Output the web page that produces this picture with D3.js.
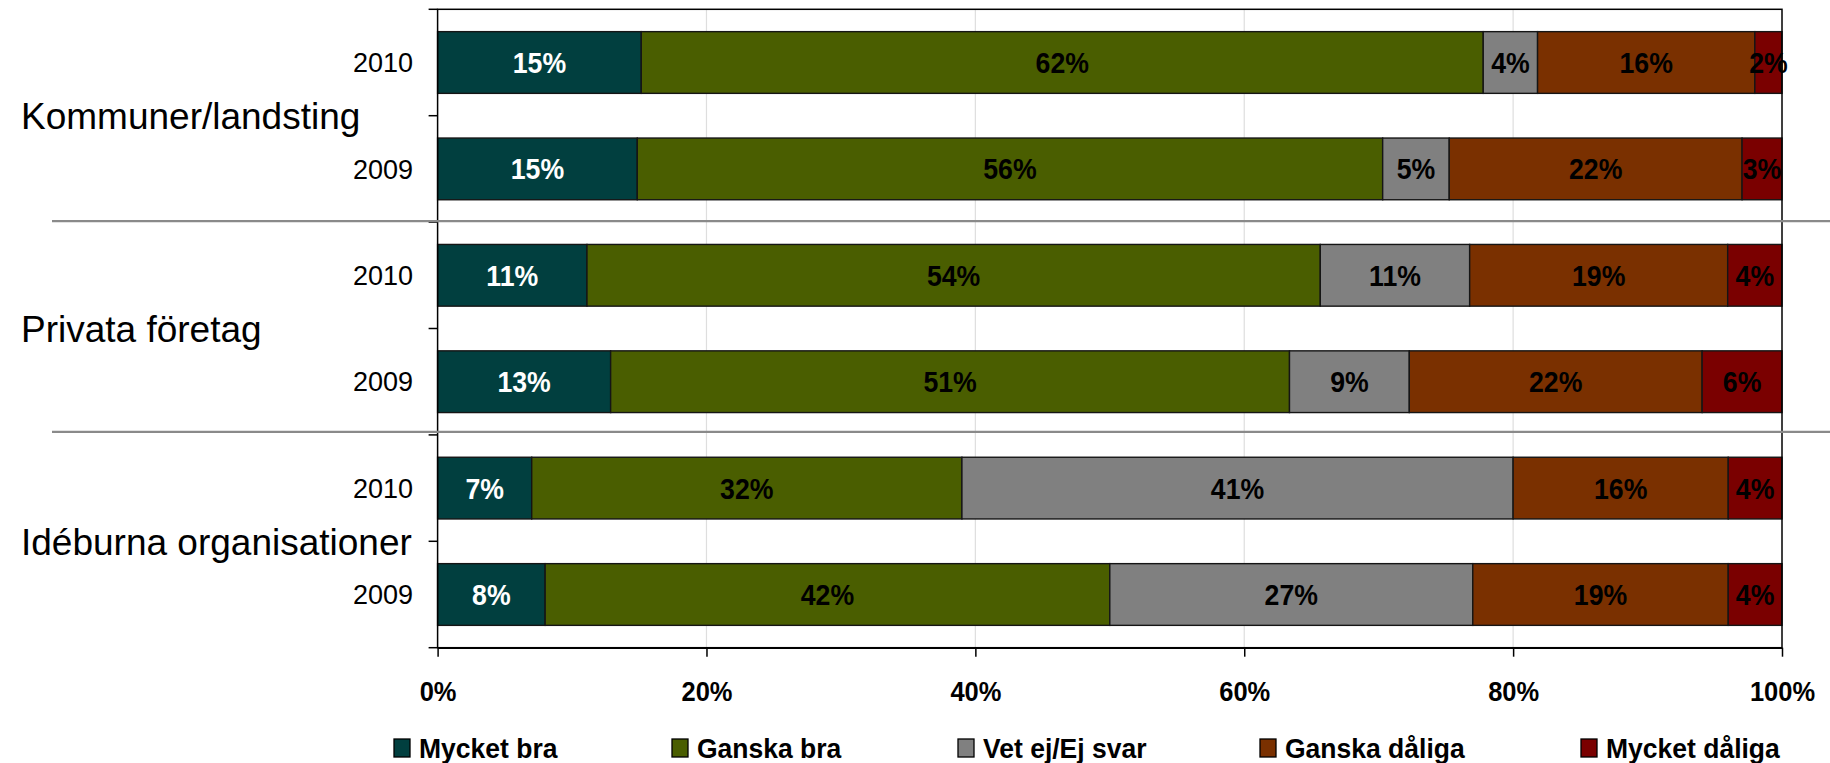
<!DOCTYPE html>
<html><head><meta charset="utf-8">
<script src="https://cdn.jsdelivr.net/npm/d3@7"></script>
<style>
html,body{margin:0;padding:0;background:#fff;}
svg{display:block;font-family:"Liberation Sans",Arial,sans-serif;}
</style></head>
<body>
<svg id="chart" width="1830" height="763"></svg>
<script>
// ---- data ----
const categories = ["Mycket bra","Ganska bra","Vet ej/Ej svar","Ganska dåliga","Mycket dåliga"];
const groups = ["Kommuner/landsting","Privata företag","Idéburna organisationer"];
const years = ["2010","2009"];
const mycketBra    = [15,15,11,13,7,8];
const ganskaBra    = [62,56,54,51,32,42];
const vetEj        = [4,5,11,9,41,27];
const ganskaDaliga = [16,22,19,22,16,19];
const mycketDaliga = [2,3,4,6,4,4];
const xTicks = [0,20,40,60,80,100];
const colors = ["#013f3f","#4a5e00","#808080","#7a3000","#7a0000"];
const labelColors = ["#ffffff","#000000","#000000","#000000","#000000"];

// ---- build rows ----
const series = [mycketBra, ganskaBra, vetEj, ganskaDaliga, mycketDaliga];
const rows = [];
groups.forEach((g,gi)=>years.forEach((yr,yi)=>{
  const i = gi*2+yi;
  const r = {id: g+"|"+yr, group:g, year:yr};
  categories.forEach((c,ci)=>r[c]=series[ci][i]);
  rows.push(r);
}));

const svg = d3.select("#chart");
const M = {left:437.6, right:1782, top:9.3, bottom:647.7};
const NARROW = 0.92;

const x = d3.scaleLinear().domain([0,1]).range([M.left,M.right]);
const y = d3.scaleBand().domain(rows.map(r=>r.id)).range([M.top,M.bottom])
  .paddingInner(0.42).paddingOuter(0.21);

const stack = d3.stack().keys(categories).offset(d3.stackOffsetExpand);
const stacked = stack(rows);

// gridlines
svg.append("g").selectAll("line").data(xTicks.slice(1,-1)).join("line")
  .attr("x1",d=>x(d/100)).attr("x2",d=>x(d/100))
  .attr("y1",M.top).attr("y2",M.bottom)
  .attr("stroke","#dedede").attr("stroke-width",1.2);

// bars
const layer = svg.append("g").selectAll("g").data(stacked).join("g")
  .attr("fill",(d,i)=>colors[i]);
layer.selectAll("rect").data(d=>d).join("rect")
  .attr("x",d=>x(d[0])).attr("width",d=>x(d[1])-x(d[0]))
  .attr("y",d=>y(d.data.id)).attr("height",y.bandwidth())
  .attr("stroke","#151515").attr("stroke-width",1.4);

// value labels
stacked.forEach((s,si)=>{
  svg.append("g").selectAll("text").data(s).join("text")
    .attr("transform",d=>`translate(${(x(d[0])+x(d[1]))/2},${y(d.data.id)+y.bandwidth()/2}) scale(${NARROW},1)`)
    .attr("dy","0.36em")
    .attr("text-anchor","middle")
    .attr("font-size",29).attr("font-weight","bold")
    .attr("fill",labelColors[si])
    .text(d=>d.data[s.key]+"%");
});

// plot border
svg.append("rect").attr("x",M.left).attr("y",M.top)
  .attr("width",M.right-M.left).attr("height",M.bottom-M.top)
  .attr("fill","none").attr("stroke","#000").attr("stroke-width",1.5);

// bottom axis
const xAxis = d3.axisBottom(x).tickValues(xTicks.map(d=>d/100))
  .tickFormat(d=>Math.round(d*100)+"%").tickSizeInner(9).tickSizeOuter(0).tickPadding(24);
const gx = svg.append("g").attr("transform",`translate(0,${M.bottom})`).call(xAxis);
gx.select(".domain").attr("stroke","#000").attr("stroke-width",1.5);
gx.selectAll(".tick line").attr("stroke","#000").attr("stroke-width",1.5);
gx.selectAll(".tick text").attr("font-size",28).attr("font-weight","bold")
  .attr("fill","#000").attr("font-family","Liberation Sans, Arial, sans-serif")
  .attr("transform",`scale(0.91,1)`);

// left axis ticks at band boundaries
const half = (y.step()-y.bandwidth())/2;
const bounds = rows.map(r=>y(r.id)-half).concat([y(rows[rows.length-1].id)+y.bandwidth()+half]);
svg.append("g").selectAll("line").data(bounds).join("line")
  .attr("x1",M.left-9).attr("x2",M.left).attr("y1",d=>d).attr("y2",d=>d)
  .attr("stroke","#000").attr("stroke-width",1.5);

// year labels
svg.append("g").selectAll("text").data(rows).join("text")
  .attr("x",413).attr("y",d=>y(d.id)+y.bandwidth()/2).attr("dy","0.36em")
  .attr("text-anchor","end").attr("font-size",27).attr("fill","#000")
  .text(d=>d.year);

// group labels
svg.append("g").selectAll("text").data(groups).join("text")
  .attr("x",21).attr("y",(g,gi)=>bounds[gi*2+1]).attr("dy","0.36em")
  .attr("font-size",37).attr("fill","#000")
  .text(d=>d);

// separators between groups
svg.append("g").selectAll("line").data([bounds[2]-1,bounds[4]-3]).join("line")
  .attr("x1",52).attr("x2",1830).attr("y1",d=>d).attr("y2",d=>d)
  .attr("stroke","#8a8a8a").attr("stroke-width",2.2);

// legend
const legX = [394,672,958,1260,1581];
const leg = svg.append("g").selectAll("g").data(categories).join("g")
  .attr("transform",(d,i)=>`translate(${legX[i]},0)`);
leg.append("rect").attr("x",0).attr("y",739).attr("width",16).attr("height",18)
  .attr("fill",(d,i)=>colors[i]).attr("stroke","#000").attr("stroke-width",1.3);
leg.append("text").attr("transform","translate(25,758) scale(0.93,1)").attr("font-size",28.5)
  .attr("font-weight","bold").attr("fill","#000").text(d=>d);
</script>
</body></html>
